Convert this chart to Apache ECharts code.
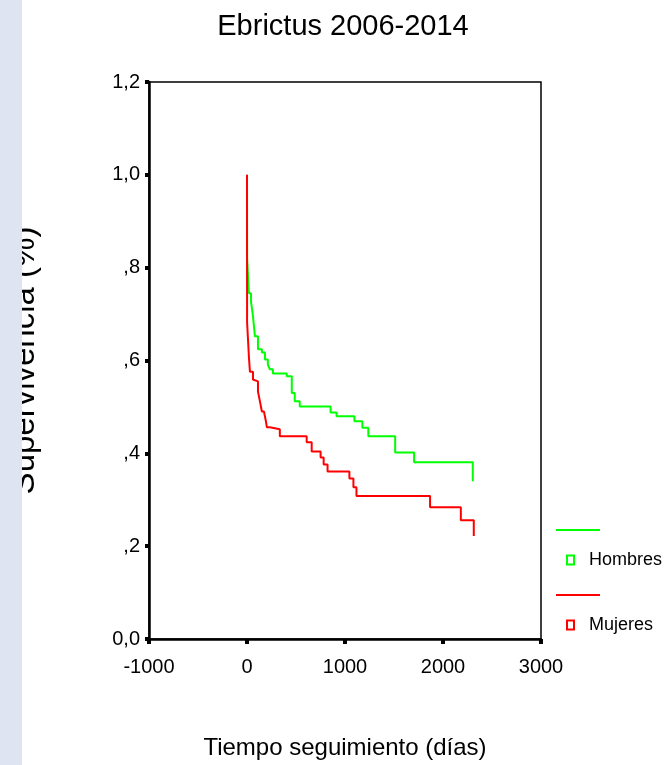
<!DOCTYPE html>
<html>
<head>
<meta charset="utf-8">
<script src="https://cdn.jsdelivr.net/npm/echarts@6/dist/echarts.min.js"></script>
<style>
html,body{margin:0;padding:0;background:#fff;}
#chart{width:665px;height:765px;}
</style>
</head>
<body>
<div id="chart"></div>
<script>
var titleText = 'Ebrictus 2006-2014';
var xAxisName = 'Tiempo seguimiento (días)';
var yAxisName = 'Supervivencia (%)';
var seriesNames = ['Hombres', 'Mujeres'];
var seriesColors = ['#00ff00', '#ff0000'];
var xTickLabels = ['-1000', '0', '1000', '2000', '3000'];
var yTickLabels = ['0,0', ',2', ',4', ',6', ',8', '1,0', '1,2'];

// Kaplan-Meier step points: [tiempo (días), supervivencia]
var hombres = [
  [0, 1.0], [1, 0.82], [20, 0.745], [41, 0.727], [61, 0.695], [81, 0.652],
  [112, 0.624], [152, 0.617], [183, 0.602], [213, 0.591], [233, 0.581],
  [264, 0.572], [406, 0.566], [457, 0.53], [487, 0.512], [538, 0.501],
  [853, 0.488], [914, 0.48], [1096, 0.469], [1177, 0.455], [1238, 0.437],
  [1512, 0.402], [1705, 0.381], [2304, 0.34]
];
var mujeres = [
  [0, 1.0], [1, 0.682], [20, 0.606], [30, 0.576], [61, 0.559], [81, 0.555],
  [112, 0.533], [132, 0.512], [152, 0.49], [173, 0.488], [193, 0.469],
  [203, 0.456], [233, 0.452], [335, 0.437], [609, 0.424], [660, 0.404],
  [751, 0.391], [782, 0.376], [822, 0.361], [1045, 0.346], [1086, 0.327],
  [1117, 0.308], [1868, 0.284], [2182, 0.256], [2314, 0.222]
];

var FONT = "'Liberation Sans', Arial, sans-serif";

var chart = echarts.init(document.getElementById('chart'), null, {renderer: 'canvas'});

function legendFor(i, top) {
  return {
    data: [{
      name: seriesNames[i],
      icon: 'rect',
      itemStyle: {color: '#ffffff', borderColor: seriesColors[i], borderWidth: 2}
    }],
    left: 566,
    top: top,
    orient: 'vertical',
    itemWidth: 7,
    itemHeight: 9,
    padding: 0,
    selectedMode: false,
    textStyle: {fontFamily: FONT, fontSize: 18, color: '#000', padding: [0, 0, 0, 10]}
  };
}

chart.setOption({
  animation: false,
  backgroundColor: '#ffffff',
  title: {
    text: titleText,
    left: 343,
    top: 12,
    padding: 0,
    textAlign: 'center',
    textStyle: {fontFamily: FONT, fontSize: 29, fontWeight: 'normal', color: '#000'}
  },
  legend: [legendFor(0, 551), legendFor(1, 616)],
  grid: {
    left: 147, right: 124, top: 82, bottom: 125,
    show: true, borderColor: '#000', borderWidth: 1.5, backgroundColor: 'transparent'
  },
  xAxis: {
    type: 'value',
    min: -1000, max: 3000, interval: 1000,
    name: xAxisName,
    nameLocation: 'middle',
    nameGap: 97,
    nameTextStyle: {fontFamily: FONT, fontSize: 24, color: '#000'},
    axisLine: {show: true, onZero: false, lineStyle: {color: '#000', width: 2.5}},
    axisTick: {show: true, length: 5, lineStyle: {color: '#000', width: 4}},
    axisLabel: {
      margin: 18, fontFamily: FONT, fontSize: 20, color: '#000',
      formatter: function (v) { return xTickLabels[Math.round((v + 1000) / 1000)]; }
    },
    splitLine: {show: false}
  },
  yAxis: {
    type: 'value',
    min: 0, max: 1.2, interval: 0.2,
    name: yAxisName,
    nameLocation: 'middle',
    nameRotate: 90,
    nameGap: 108,
    nameTextStyle: {fontFamily: FONT, fontSize: 33, color: '#000'},
    axisLine: {show: true, onZero: false, lineStyle: {color: '#000', width: 2.5}},
    axisTick: {show: true, length: 4, lineStyle: {color: '#000', width: 4}},
    axisLabel: {
      margin: 9, fontFamily: FONT, fontSize: 20, color: '#000',
      formatter: function (v) { return yTickLabels[Math.round(v / 0.2)]; }
    },
    splitLine: {show: false}
  },
  series: [
    {
      name: seriesNames[0], type: 'line', step: 'end', data: hombres,
      showSymbol: false, symbol: 'none',
      lineStyle: {color: seriesColors[0], width: 2},
      itemStyle: {color: seriesColors[0]}, z: 2
    },
    {
      name: seriesNames[1], type: 'line', step: 'end', data: mujeres,
      showSymbol: false, symbol: 'none',
      lineStyle: {color: seriesColors[1], width: 2},
      itemStyle: {color: seriesColors[1]}, z: 3
    }
  ],
  graphic: [
    {type: 'line', shape: {x1: 556, y1: 530, x2: 600, y2: 530}, style: {stroke: seriesColors[0], lineWidth: 2}},
    {type: 'line', shape: {x1: 556, y1: 595, x2: 600, y2: 595}, style: {stroke: seriesColors[1], lineWidth: 2}},
    {type: 'rect', shape: {x: 0, y: 0, width: 22, height: 765}, style: {fill: '#dfe4f2'}, z: 100}
  ]
});
</script>
</body>
</html>
